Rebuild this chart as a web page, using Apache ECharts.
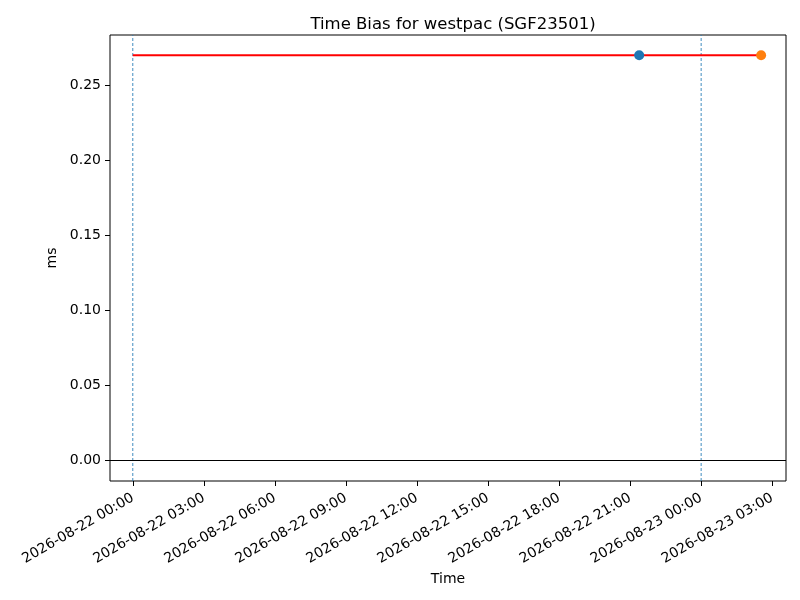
<!DOCTYPE html>
<html>
<head>
<meta charset="utf-8">
<script src="https://cdn.jsdelivr.net/npm/echarts@6/dist/echarts.min.js"></script>
<style>html,body{margin:0;padding:0;background:#fff;}#c{width:800px;height:600px;}</style>
</head>
<body>
<div id="c"></div>
<script>
// ---- data ----
var lineTimes = ['2026-08-22T00:00:00Z', '2026-08-23T02:32:00Z'];
var lineValues = [0.27, 0.27];
var bluePoint = ['2026-08-22T21:23:00Z', 0.27];
var orangePoint = ['2026-08-23T02:32:00Z', 0.27];
var vlineTimes = ['2026-08-22T00:00:00Z', '2026-08-23T00:00:00Z'];
var xTickTimes = ['2026-08-22T00:00:00Z','2026-08-22T03:00:00Z','2026-08-22T06:00:00Z','2026-08-22T09:00:00Z',
  '2026-08-22T12:00:00Z','2026-08-22T15:00:00Z','2026-08-22T18:00:00Z','2026-08-22T21:00:00Z',
  '2026-08-23T00:00:00Z','2026-08-23T03:00:00Z'];
var xTickLabels = ['2026-08-22 00:00','2026-08-22 03:00','2026-08-22 06:00','2026-08-22 09:00',
  '2026-08-22 12:00','2026-08-22 15:00','2026-08-22 18:00','2026-08-22 21:00',
  '2026-08-23 00:00','2026-08-23 03:00'];
var yTicks = [0.00, 0.05, 0.10, 0.15, 0.20, 0.25];
var xMinTime = '2026-08-21T23:02:15Z';
var xMaxTime = '2026-08-23T03:35:00Z';
var yMin = -0.0135, yMax = 0.2835;

var t = function (s) { return Date.parse(s); };
var xTickVals = xTickTimes.map(t);
var labelMap = {};
xTickVals.forEach(function (v, i) { labelMap[v] = xTickLabels[i]; });

var font = 'DejaVu Sans';
var vlineSeries = vlineTimes.map(function (s) {
  return {
    type: 'line',
    data: [[t(s), yMin], [t(s), yMax]],
    showSymbol: false, symbol: 'none', silent: true,
    lineStyle: { color: '#1f77b4', width: 1, type: [3, 2], opacity: 0.85 },
    z: 1
  };
});

var chart = echarts.init(document.getElementById('c'));
chart.setOption({
  animation: false,
  backgroundColor: '#fff',
  textStyle: { fontFamily: font },
  title: {
    text: 'Time Bias for westpac (SGF23501)',
    left: 448, top: 11, textAlign: 'center',
    textStyle: { fontFamily: font, fontSize: 16.5, fontWeight: 'normal', color: '#000' }
  },
  grid: { left: 110, right: 14, top: 35, bottom: 119, show: true, borderColor: '#000', borderWidth: 1, backgroundColor: 'transparent' },
  xAxis: {
    type: 'value',
    min: t(xMinTime), max: t(xMaxTime),
    name: 'Time', nameLocation: 'middle', nameGap: 88,
    nameTextStyle: { fontFamily: font, fontSize: 14, color: '#000' },
    axisLine: { show: false, onZero: false },
    splitLine: { show: false },
    axisTick: { show: true, length: 5, lineStyle: { color: '#000', width: 1 }, customValues: xTickVals },
    axisLabel: {
      rotate: 30, fontFamily: font, fontSize: 14, color: '#000', margin: 16,
      customValues: xTickVals,
      formatter: function (v) { return labelMap[v] || ''; }
    }
  },
  yAxis: {
    type: 'value',
    min: yMin, max: yMax,
    name: 'ms', nameLocation: 'middle', nameGap: 47,
    nameTextStyle: { fontFamily: font, fontSize: 14, color: '#000' },
    axisLine: { show: false, onZero: false },
    splitLine: { show: false },
    axisTick: { show: true, length: 5, lineStyle: { color: '#000', width: 1 }, customValues: yTicks },
    axisLabel: {
      fontFamily: font, fontSize: 14, color: '#000', margin: 9,
      customValues: yTicks,
      formatter: function (v) { return v.toFixed(2); }
    }
  },
  series: vlineSeries.concat([
    {
      type: 'line',
      data: lineTimes.map(function (s, i) { return [t(s), lineValues[i]]; }),
      showSymbol: false, symbol: 'none',
      lineStyle: { color: '#ff0000', width: 2 },
      z: 3,
      markLine: {
        silent: true, symbol: 'none', label: { show: false },
        lineStyle: { color: '#000', width: 1, type: 'solid', opacity: 1 },
        data: [ { yAxis: 0 } ],
        z: 2
      }
    },
    {
      type: 'scatter',
      data: [[t(bluePoint[0]), bluePoint[1]]],
      symbolSize: 10,
      itemStyle: { color: '#1f77b4', opacity: 1 },
      z: 5
    },
    {
      type: 'scatter',
      data: [[t(orangePoint[0]), orangePoint[1]]],
      symbolSize: 10,
      itemStyle: { color: '#ff7f0e', opacity: 1 },
      z: 5
    }
  ])
});
</script>
</body>
</html>
